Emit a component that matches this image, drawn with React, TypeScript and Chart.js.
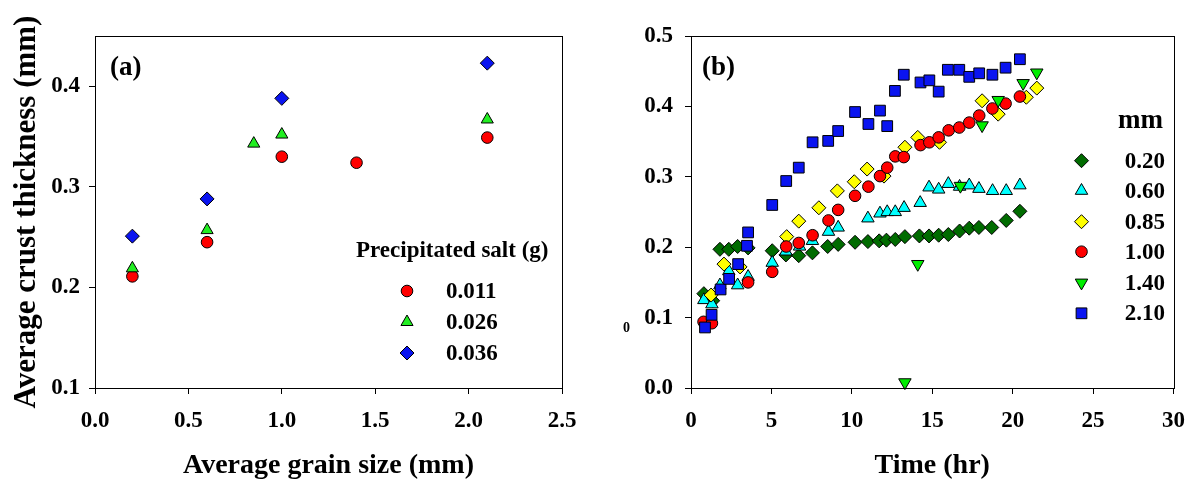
import React, { useEffect, useRef } from 'react';
import { Chart, registerables } from 'chart.js';

Chart.register(...registerables);

const FONT = '"Liberation Serif", "Times New Roman", Times, serif';

// ---------- Panel (a) data ----------
const grainSize011 = [0.2, 0.6, 1.0, 1.4, 2.1];
const crust011 = [0.211, 0.245, 0.330, 0.324, 0.349];
const grainSize026 = [0.2, 0.6, 0.85, 1.0, 2.1];
const crust026 = [0.219, 0.257, 0.343, 0.352, 0.367];
const grainSize036 = [0.2, 0.6, 1.0, 2.1];
const crust036 = [0.251, 0.288, 0.388, 0.423];
const saltLabels = ['0.011', '0.026', '0.036'];

// ---------- Panel (b) data ----------
const time020 = [0.8, 1.35, 1.8, 2.35, 2.9, 3.55, 5.05, 5.9, 6.7, 7.55, 8.5, 9.15, 10.2, 11.0, 11.7, 12.15, 12.7, 13.3, 14.2, 14.8, 15.4, 16.0, 16.7, 17.3, 17.9, 18.7, 19.6, 20.45];
const thick020 = [0.134, 0.124, 0.197, 0.197, 0.201, 0.199, 0.195, 0.189, 0.188, 0.192, 0.201, 0.204, 0.207, 0.208, 0.209, 0.210, 0.211, 0.215, 0.216, 0.216, 0.217, 0.218, 0.223, 0.227, 0.228, 0.228, 0.238, 0.251];
const time060 = [0.8, 1.3, 1.8, 2.35, 2.9, 3.55, 5.05, 5.9, 6.75, 7.55, 8.55, 9.15, 11.0, 11.75, 12.2, 12.7, 13.25, 14.25, 14.8, 15.4, 16.0, 16.7, 17.3, 17.9, 18.75, 19.6, 20.45];
const thick060 = [0.125, 0.119, 0.146, 0.166, 0.146, 0.158, 0.178, 0.194, 0.201, 0.209, 0.222, 0.228, 0.241, 0.248, 0.250, 0.250, 0.256, 0.263, 0.285, 0.282, 0.290, 0.286, 0.288, 0.283, 0.280, 0.280, 0.288];
const time085 = [1.25, 2.05, 3.05, 5.95, 6.7, 7.95, 9.1, 10.15, 10.95, 12.0, 13.3, 14.1, 15.45, 18.1, 19.1, 20.85, 21.5];
const thick085 = [0.132, 0.176, 0.172, 0.215, 0.237, 0.256, 0.280, 0.293, 0.311, 0.301, 0.342, 0.356, 0.349, 0.408, 0.389, 0.413, 0.426];
const time100 = [0.78, 1.3, 3.55, 5.05, 5.92, 6.7, 7.56, 8.55, 9.15, 10.2, 11.03, 11.75, 12.2, 12.7, 13.23, 14.27, 14.82, 15.4, 16.02, 16.68, 17.3, 17.92, 18.74, 19.56, 20.45];
const thick100 = [0.094, 0.092, 0.150, 0.165, 0.201, 0.206, 0.217, 0.238, 0.253, 0.273, 0.286, 0.301, 0.313, 0.329, 0.328, 0.345, 0.349, 0.356, 0.366, 0.370, 0.377, 0.387, 0.397, 0.404, 0.414];
const time140 = [13.3, 14.1, 16.75, 18.1, 19.1, 20.65, 21.5];
const thick140 = [0.008, 0.176, 0.287, 0.373, 0.409, 0.433, 0.448];
const time210 = [0.87, 1.28, 1.84, 2.37, 2.93, 3.48, 3.55, 5.05, 5.92, 6.7, 7.56, 8.53, 9.15, 10.2, 11.03, 11.75, 12.2, 12.68, 13.23, 14.27, 14.82, 15.4, 15.97, 16.68, 17.3, 17.92, 18.74, 19.56, 20.45];
const thick210 = [0.086, 0.104, 0.140, 0.155, 0.176, 0.202, 0.221, 0.260, 0.294, 0.313, 0.349, 0.351, 0.365, 0.392, 0.375, 0.394, 0.372, 0.422, 0.445, 0.434, 0.437, 0.421, 0.452, 0.452, 0.442, 0.447, 0.445, 0.455, 0.467];
const grainLabels = ['0.20', '0.60', '0.85', '1.00', '1.40', '2.10'];

const zip = (xs: number[], ys: number[]) => xs.map((x, i) => ({ x, y: ys[i] }));

type Marker = { style: string; rotation: number; radius: number; color: string };

function drawMarker(ctx: CanvasRenderingContext2D, m: Marker, x: number, y: number) {
  const r = m.radius;
  ctx.save();
  ctx.beginPath();
  ctx.fillStyle = m.color;
  ctx.strokeStyle = '#000';
  ctx.lineWidth = 1;
  if (m.style === 'circle') {
    ctx.arc(x, y, r, 0, Math.PI * 2);
  } else if (m.style === 'rect') {
    const s = r * Math.SQRT1_2;
    ctx.rect(x - s, y - s, 2 * s, 2 * s);
  } else if (m.style === 'rectRot') {
    ctx.moveTo(x, y - r);
    ctx.lineTo(x + r, y);
    ctx.lineTo(x, y + r);
    ctx.lineTo(x - r, y);
    ctx.closePath();
  } else if (m.style === 'triangle') {
    let a = (m.rotation * Math.PI) / 180;
    ctx.moveTo(x + Math.sin(a) * r, y - Math.cos(a) * r);
    a += (2 * Math.PI) / 3;
    ctx.lineTo(x + Math.sin(a) * r, y - Math.cos(a) * r);
    a += (2 * Math.PI) / 3;
    ctx.lineTo(x + Math.sin(a) * r, y - Math.cos(a) * r);
    ctx.closePath();
  }
  ctx.fill();
  ctx.stroke();
  ctx.restore();
}

function decorPlugin(cfg: {
  panel: string;
  panelX: number;
  panelY: number;
  legendTitle: string;
  legendTitleX: number;
  legendTitleY: number;
  titleSize: number;
  markerX: number;
  labelX: number;
  labelAlign: CanvasTextAlign;
  rowsY: number[];
  labels: string[];
  markers: Marker[];
}) {
  return {
    id: 'decor',
    afterDraw(chart: any) {
      const { ctx, chartArea: ca } = chart;
      ctx.save();
      ctx.strokeStyle = '#000';
      ctx.lineWidth = 1;
      ctx.strokeRect(Math.round(ca.left) + 0.5, Math.round(ca.top) + 0.5, Math.round(ca.right - ca.left), Math.round(ca.bottom - ca.top));
      ctx.fillStyle = '#000';
      ctx.textBaseline = 'middle';
      ctx.font = `bold 27px ${FONT}`;
      ctx.textAlign = 'left';
      ctx.fillText(cfg.panel, cfg.panelX, cfg.panelY);
      ctx.font = `bold ${cfg.titleSize}px ${FONT}`;
      ctx.fillText(cfg.legendTitle, cfg.legendTitleX, cfg.legendTitleY);
      ctx.font = `bold 23px ${FONT}`;
      ctx.textAlign = cfg.labelAlign;
      cfg.labels.forEach((lab, i) => {
        drawMarker(ctx, cfg.markers[i], cfg.markerX, cfg.rowsY[i]);
        ctx.fillStyle = '#000';
        ctx.fillText(lab, cfg.labelX, cfg.rowsY[i] + 1);
      });
      ctx.restore();
    },
  };
}

function axisCommon(extra: any) {
  return {
    type: 'linear',
    grid: { display: true, drawOnChartArea: false, drawTicks: true, tickLength: 6, color: '#000', lineWidth: 1 },
    border: { display: true, color: '#000', width: 1 },
    ...extra,
  };
}

const tickFont = { family: FONT, size: 23, weight: 'bold' as const };
const titleFont = { family: FONT, size: 28, weight: 'bold' as const };

const markersA: Marker[] = [
  { style: 'circle', rotation: 0, radius: 5.8, color: '#ff0000' },
  { style: 'triangle', rotation: 0, radius: 7, color: '#22ee22' },
  { style: 'rectRot', rotation: 0, radius: 7, color: '#0a14f0' },
];

const markersB: Marker[] = [
  { style: 'rectRot', rotation: 0, radius: 7, color: '#006b00' },
  { style: 'triangle', rotation: 0, radius: 7.2, color: '#00ffff' },
  { style: 'rectRot', rotation: 0, radius: 7, color: '#ffff00' },
  { style: 'circle', rotation: 0, radius: 5.8, color: '#ff0000' },
  { style: 'triangle', rotation: 180, radius: 7.2, color: '#00ee00' },
  { style: 'rect', rotation: 0, radius: 7.6, color: '#0a14f0' },
];

function ds(label: string, data: any[], m: Marker, order: number) {
  return {
    label,
    data,
    pointStyle: m.style,
    rotation: m.rotation,
    pointRadius: m.radius,
    pointBackgroundColor: m.color,
    pointBorderColor: '#000',
    pointBorderWidth: 1,
    showLine: false,
    clip: false,
    order,
  };
}

function PanelA() {
  const ref = useRef<HTMLCanvasElement>(null);
  useEffect(() => {
    const chart = new Chart(ref.current as HTMLCanvasElement, {
      type: 'scatter',
      data: {
        datasets: [
          ds(saltLabels[0], zip(grainSize011, crust011), markersA[0], 3),
          ds(saltLabels[1], zip(grainSize026, crust026), markersA[1], 2),
          ds(saltLabels[2], zip(grainSize036, crust036), markersA[2], 1),
        ],
      },
      options: {
        responsive: false,
        animation: false,
        devicePixelRatio: 1,
        events: [],
        layout: { padding: { left: 0, right: 38, top: 36, bottom: 0 } },
        plugins: { legend: { display: false }, tooltip: { enabled: false } },
        scales: {
          x: axisCommon({
            min: 0,
            max: 2.5,
            ticks: { stepSize: 0.5, color: '#000', font: tickFont, padding: 13, maxRotation: 0, autoSkip: false, callback: (v: any) => Number(v).toFixed(1) },
            title: { display: true, text: 'Average grain size (mm)', color: '#000', font: titleFont, padding: { top: 0, bottom: 4 } },
            afterFit: (s: any) => { s.height = 99; },
          }),
          y: axisCommon({
            min: 0.1,
            max: 0.45,
            ticks: { stepSize: 0.1, color: '#000', font: tickFont, padding: 9, autoSkip: false, callback: (v: any) => Number(v).toFixed(1) },
            afterBuildTicks: (s: any) => { s.ticks = s.ticks.filter((t: any) => t.value <= 0.4001); },
            title: { display: true, text: 'Average crust thickness (mm)', color: '#000', font: { family: FONT, size: 31, weight: 'bold' }, padding: { top: 8, bottom: 0 } },
            afterFit: (s: any) => { s.width = 95; },
          }),
        },
      } as any,
      plugins: [
        decorPlugin({
          panel: '(a)', panelX: 110, panelY: 68,
          legendTitle: 'Precipitated salt (g)', legendTitleX: 356, legendTitleY: 251, titleSize: 23,
          markerX: 407, labelX: 446, labelAlign: 'left',
          rowsY: [291, 322, 353], labels: saltLabels, markers: markersA,
        }),
      ],
    });
    return () => chart.destroy();
  }, []);
  return <canvas ref={ref} width={600} height={487} style={{ position: 'absolute', left: 0, top: 0 }} />;
}

function PanelB() {
  const ref = useRef<HTMLCanvasElement>(null);
  useEffect(() => {
    const chart = new Chart(ref.current as HTMLCanvasElement, {
      type: 'scatter',
      data: {
        datasets: [
          ds(grainLabels[0], zip(time020, thick020), markersB[0], 6),
          ds(grainLabels[1], zip(time060, thick060), markersB[1], 5),
          ds(grainLabels[2], zip(time085, thick085), markersB[2], 4),
          ds(grainLabels[3], zip(time100, thick100), markersB[3], 3),
          ds(grainLabels[4], zip(time140, thick140), markersB[4], 2),
          ds(grainLabels[5], zip(time210, thick210), markersB[5], 1),
        ],
      },
      options: {
        responsive: false,
        animation: false,
        devicePixelRatio: 1,
        events: [],
        layout: { padding: { left: 0, right: 20, top: 36, bottom: 0 } },
        plugins: { legend: { display: false }, tooltip: { enabled: false } },
        scales: {
          x: axisCommon({
            min: 0,
            max: 30,
            ticks: { stepSize: 5, color: '#000', font: tickFont, padding: 13, maxRotation: 0, autoSkip: false, callback: (v: any) => String(Number(v)) },
            title: { display: true, text: 'Time (hr)', color: '#000', font: titleFont, padding: { top: 0, bottom: 4 } },
            afterFit: (s: any) => { s.height = 99; },
          }),
          y: axisCommon({
            min: 0,
            max: 0.5,
            ticks: { stepSize: 0.1, color: '#000', font: tickFont, padding: 12, autoSkip: false, callback: (v: any) => Number(v).toFixed(1) },
            afterFit: (s: any) => { s.width = 91; },
          }),
        },
      } as any,
      plugins: [
        decorPlugin({
          panel: '(b)', panelX: 102, panelY: 68,
          legendTitle: 'mm', legendTitleX: 518, legendTitleY: 121, titleSize: 27,
          markerX: 481.5, labelX: 565, labelAlign: 'right',
          rowsY: [160.7, 190.7, 221.7, 251.7, 282.7, 313.3], labels: grainLabels, markers: markersB,
        }),
      ],
    });
    return () => chart.destroy();
  }, []);
  return <canvas ref={ref} width={598} height={487} style={{ position: 'absolute', left: 600, top: 0 }} />;
}

export default function App() {
  return (
    <div style={{ position: 'absolute', left: 0, top: 0, width: 1198, height: 487, background: '#fff', overflow: 'hidden' }}>
      <PanelA />
      <PanelB />
      <span style={{ position: 'absolute', left: 623, top: 320, font: `bold 14px ${FONT}`, color: '#000', lineHeight: '16px' }}>0</span>
    </div>
  );
}
